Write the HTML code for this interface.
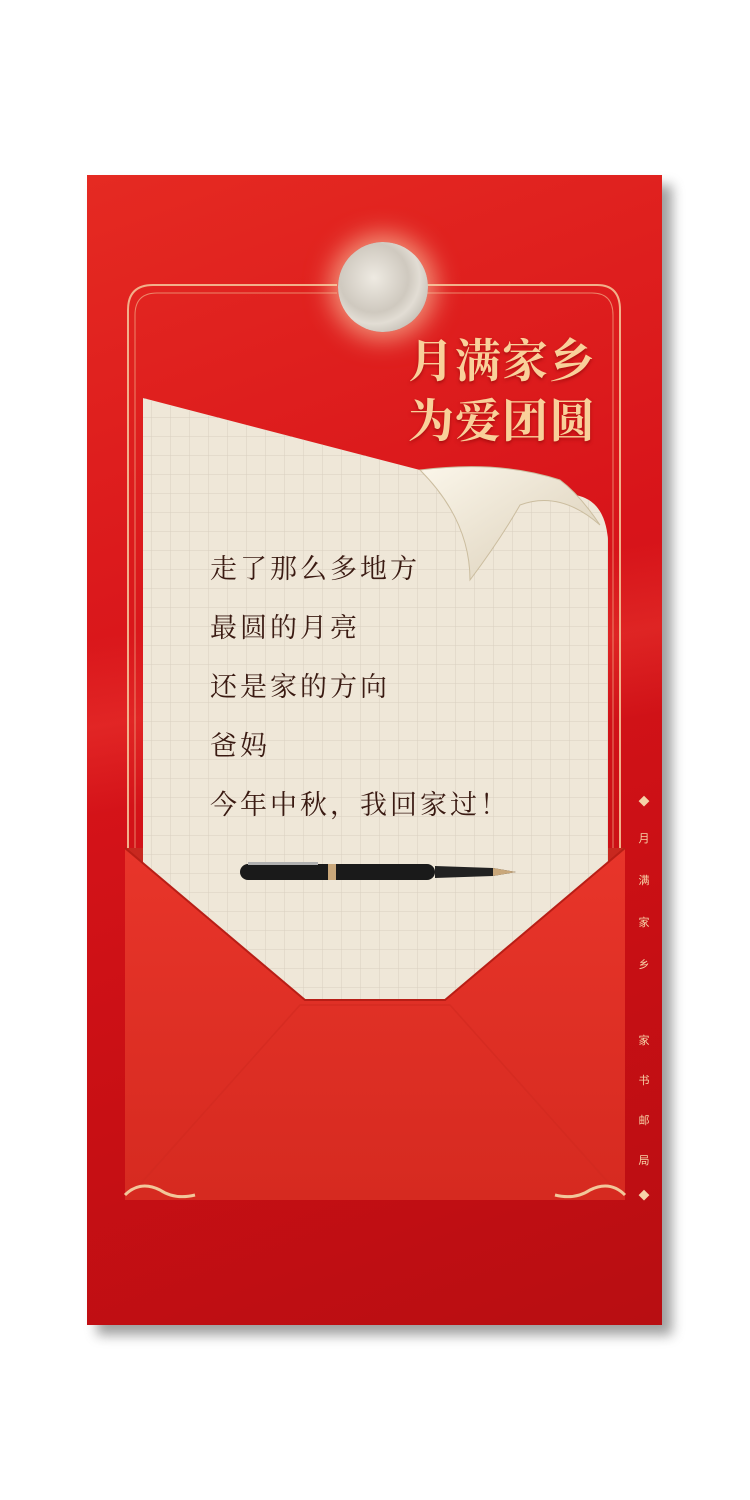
<!DOCTYPE html>
<html><head><meta charset="utf-8">
<style>
html,body{margin:0;padding:0;background:#fff;}
body{width:750px;height:1500px;position:relative;overflow:hidden;font-family:"Liberation Sans","Noto Sans CJK SC",sans-serif;}
.abs{position:absolute;}
</style></head>
<body>
<div class="abs" style="left:97px;top:185px;width:575px;height:1150px;background:#777;filter:blur(6px);opacity:.7"></div>
<div class="abs" style="left:87px;top:175px;width:575px;height:1150px;background:linear-gradient(160deg,#e52a22 0%,#d8141a 40%,#c80f14 70%,#b80e12 100%);overflow:hidden">
 <div class="abs" style="left:-100px;top:350px;width:800px;height:300px;background:linear-gradient(170deg,rgba(255,80,60,0) 30%,rgba(255,90,70,.25) 50%,rgba(255,80,60,0) 70%)"></div>
 <svg class="abs" style="left:0;top:0" width="575" height="1150">
  <path d="M41 1010 V135 Q41 110 66 110 H250 M340 110 H510 Q533 110 533 135 V1010" fill="none" stroke="#f2b08a" stroke-width="2"/>
  <path d="M48 1010 V140 Q48 118 70 118 H250 M340 118 H505 Q526 118 526 140 V1010" fill="none" stroke="#f2b08a" stroke-width="1" opacity=".7"/>
 </svg>
</div>
<div class="abs" style="left:338px;top:242px;width:90px;height:90px;border-radius:50%;background:radial-gradient(circle at 40% 40%,#eeeae2 0%,#cfc9bf 45%,#e2ddd4 60%,#a39c92 100%);box-shadow:0 0 25px 8px rgba(255,220,180,.6)"></div>
<div class="abs" style="left:408px;top:330px;font-size:46px;font-weight:bold;color:#f9d09a;letter-spacing:1px;font-family:'Noto Serif CJK SC',serif;line-height:56px;text-shadow:0 2px 3px rgba(120,0,0,.5)">月满家乡</div>
<div class="abs" style="left:408px;top:390px;font-size:46px;font-weight:bold;color:#f9d09a;letter-spacing:1px;font-family:'Noto Serif CJK SC',serif;line-height:56px;text-shadow:0 2px 3px rgba(120,0,0,.5)">为爱团圆</div>
<svg class="abs" style="left:0;top:0" width="750" height="1500">
 <defs>
  <pattern id="g" width="19" height="19" patternUnits="userSpaceOnUse"><path d="M19 0V19H0" fill="none" stroke="#d8cfc0" stroke-width="1"/></pattern>
  <linearGradient id="curl" x1="0" y1="0" x2="1" y2="1"><stop offset="0" stop-color="#fbf6ea"/><stop offset="1" stop-color="#d9cdb6"/></linearGradient>
 </defs>
 <path d="M143 398 L420 470 Q520 500 575 495 Q605 500 608 540 V1000 H143 Z" fill="#efe7d8"/>
 <path d="M143 398 L420 470 Q520 500 575 495 Q605 500 608 540 V1000 H143 Z" fill="url(#g)"/>
 <path d="M420 470 Q470 520 470 580 Q500 540 520 505 Q560 490 600 525 Q580 495 560 480 Q500 460 420 470 Z" fill="url(#curl)" stroke="#cbbd9f" stroke-width="1"/>
</svg>
<div class="abs" style="left:210px;top:537px;font-size:27px;line-height:59px;color:#3a1a12;font-family:'Noto Serif CJK SC',serif;letter-spacing:3px">走了那么多地方<br>最圆的月亮<br>还是家的方向<br>爸妈<br>今年中秋，我回家过！</div>
<svg class="abs" style="left:0;top:0" width="750" height="1500">
 <defs><linearGradient id="env" x1="0" y1="0" x2="0" y2="1"><stop offset="0" stop-color="#e8352a"/><stop offset="1" stop-color="#d62a20"/></linearGradient></defs>
 <path d="M125 848 L143 848 L143 1000 L125 1000 Z M608 848 L625 848 L625 1000 L608 1000Z" fill="#c8281f"/>
 <path d="M125 848 L305 1000 L445 1000 L625 848 V1200 H125 Z" fill="url(#env)"/>
 <path d="M125 848 L305 1000 L445 1000 L625 848" fill="none" stroke="#b81e16" stroke-width="2"/>
 <path d="M135 1190 L300 1005 L450 1005 L615 1190" fill="none" stroke="#d02a20" stroke-width="1.5" opacity=".6"/>
 <path d="M125 1195 Q140 1180 160 1190 Q175 1200 195 1195 M625 1195 Q610 1180 590 1190 Q575 1200 555 1195" fill="none" stroke="#f2c79a" stroke-width="3"/>
</svg>
<svg class="abs" style="left:238px;top:858px" width="282" height="30">
 <rect x="2" y="6" width="195" height="16" rx="8" fill="#1a1a1a"/>
 <rect x="90" y="6" width="8" height="16" fill="#c9a77a"/>
 <path d="M197 8 L255 10 L278 14 L255 18 L197 20 Z" fill="#222"/>
 <path d="M255 10 L278 14 L255 18 Z" fill="#c9a77a"/>
 <rect x="10" y="4" width="70" height="3" fill="#b0b0b0"/>
</svg>
<div class="abs" style="left:637px;top:795px;width:14px;text-align:center;color:#f6d3a8;font-size:11px;font-family:'Noto Sans CJK SC',sans-serif">
 <div style="line-height:12px">◆</div>
 <div style="margin-top:10px;line-height:42px">月<br>满<br>家<br>乡</div>
 <div style="margin-top:35px;line-height:40px">家<br>书<br>邮<br>局</div>
 <div style="line-height:30px">◆</div>
</div>
</body></html>
